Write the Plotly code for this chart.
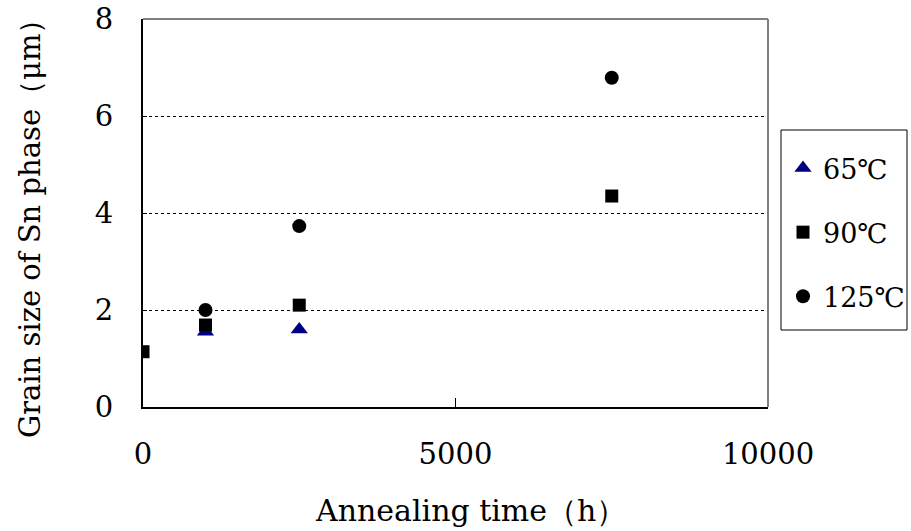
import plotly.graph_objects as go

# Annealing time (h) and grain size of the Sn phase (μm) for each temperature
time_65 = [1000, 2500]
size_65 = [1.55, 1.60]

time_90 = [0, 1000, 2500, 7500]
size_90 = [1.14, 1.69, 2.10, 4.35]

time_125 = [1000, 2500, 7500]
size_125 = [2.00, 3.73, 6.79]

x_ticks = [0, 5000, 10000]
y_ticks = [0, 2, 4, 6, 8]

x_title = "Annealing time（h）"
y_title = "Grain size of Sn phase（μm）"

FONT = "DejaVu Serif"

fig = go.Figure()
fig.add_trace(go.Scatter(
    x=time_65, y=size_65, mode="markers", name="65℃", legendgroup="a",
    marker=dict(symbol="triangle-up", size=15, color="#000080"),
))
fig.add_trace(go.Scatter(
    x=time_90, y=size_90, mode="markers", name="90℃", legendgroup="b",
    marker=dict(symbol="square", size=13, color="black"),
))
fig.add_trace(go.Scatter(
    x=time_125, y=size_125, mode="markers", name="125℃", legendgroup="c",
    marker=dict(symbol="circle", size=14, color="black"),
))

# grey frame on the top and right sides
fig.add_shape(type="line", xref="paper", yref="paper", x0=0, x1=1, y0=1, y1=1,
              line=dict(color="#808080", width=2), layer="above")
fig.add_shape(type="line", xref="paper", yref="paper", x0=1, x1=1, y0=0, y1=1,
              line=dict(color="#808080", width=2), layer="above")

# legend box
fig.add_shape(type="rect", xref="paper", yref="paper",
              x0=(781 - 143) / 625, x1=(907 - 143) / 625,
              y0=(407 - 330) / 388, y1=(407 - 130) / 388,
              line=dict(color="black", width=1), fillcolor="white", layer="below")

# axis titles
fig.add_annotation(text=x_title, xref="paper", yref="paper",
                   x=(470 - 143) / 625, y=(407 - 510) / 388,
                   xanchor="center", yanchor="middle", showarrow=False,
                   font=dict(family=FONT, size=30))
fig.add_annotation(text=y_title, xref="paper", yref="paper",
                   x=(30 - 143) / 625, y=(407 - 222) / 388,
                   xanchor="center", yanchor="middle", showarrow=False,
                   textangle=-90, font=dict(family=FONT, size=29))

fig.update_layout(
    width=911, height=531,
    margin=dict(l=143, r=143, t=19, b=124, autoexpand=False),
    paper_bgcolor="white", plot_bgcolor="white",
    font=dict(family=FONT, color="black", size=29),
    showlegend=True,
    legend=dict(
        x=(783 - 143) / 625, y=(407 - 144) / 388, xanchor="left", yanchor="top",
        borderwidth=0, bgcolor="rgba(0,0,0,0)",
        font=dict(family=FONT, size=27),
        tracegroupgap=26, traceorder="grouped",
        itemwidth=30,
    ),
    xaxis=dict(
        range=[0, 10000], tickvals=x_ticks, ticktext=[str(v) for v in x_ticks],
        showgrid=False, zeroline=False, automargin=False,
        showline=True, linecolor="black", linewidth=2,
        ticks="inside", ticklen=9, tickcolor="black", tickwidth=1,
        ticklabelstandoff=20,
    ),
    yaxis=dict(
        range=[0, 8], tickvals=y_ticks, ticktext=[str(v) for v in y_ticks],
        showgrid=True, gridcolor="black", griddash="dot", gridwidth=1,
        zeroline=False, automargin=False,
        showline=True, linecolor="black", linewidth=2,
        ticks="inside", ticklen=4, tickcolor="black", tickwidth=1,
        ticklabelstandoff=22,
    ),
)

fig.write_html("out.html")
